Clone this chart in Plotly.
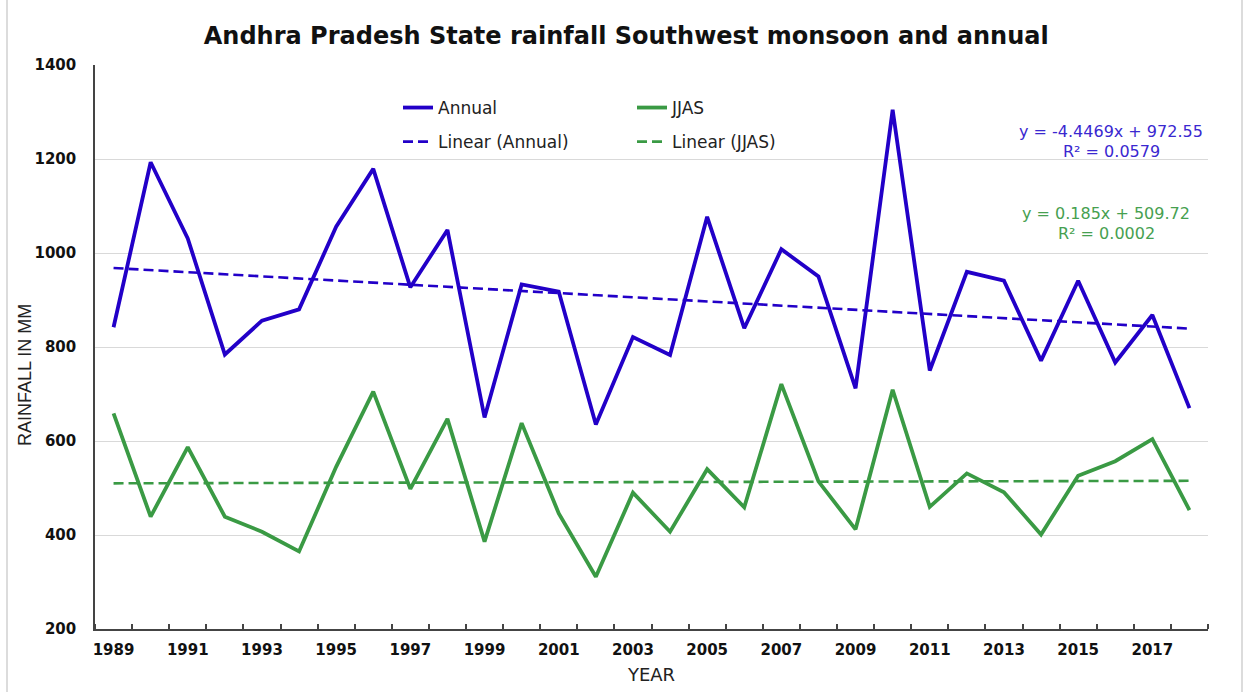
import numpy as np
import plotly.graph_objects as go

# ---- data ----
years = list(range(1989, 2019))
annual = [842, 1193, 1031, 784, 856, 880, 1056, 1179, 927, 1049,
          650, 933, 918, 635, 821, 783, 1077, 840, 1008, 950,
          712, 1305, 750, 960, 941, 771, 941, 767, 868, 670]
jjas = [659, 439, 587, 439, 407, 365, 545, 705, 498, 647,
        386, 638, 446, 311, 490, 407, 540, 459, 721, 514,
        412, 709, 460, 531, 491, 401, 526, 557, 604, 453]
tick_years = list(range(1989, 2019, 2))
tick_labels = [str(y) for y in tick_years]

# trend coefficients (x = 1..30)
annual_slope, annual_icpt = -4.4469, 972.55
jjas_slope, jjas_icpt = 0.185, 509.72
annual_eq = ["y = -4.4469x + 972.55", "R² = 0.0579"]
jjas_eq = ["y = 0.185x + 509.72", "R² = 0.0002"]

idx = np.arange(1, len(years) + 1)
annual_trend = annual_icpt + annual_slope * idx
jjas_trend = jjas_icpt + jjas_slope * idx

BLUE = "#2200C8"
GREEN = "#3A9A44"

W, H = 1245, 692
L, R, T, B = 95, 37, 65, 63
pw, ph = W - L - R, H - T - B


def px2x(px):
    return (px - L) / pw


def px2y(py):
    return (H - B - py) / ph


fig = go.Figure()
fig.add_trace(go.Scatter(x=years, y=annual, mode="lines", name="Annual",
                         line=dict(color=BLUE, width=3.8), legend="legend",
                         legendgroup="a"))
fig.add_trace(go.Scatter(x=years, y=annual_trend, mode="lines", name="Linear (Annual)",
                         line=dict(color=BLUE, width=2.6, dash="10px,5px"),
                         legend="legend", legendgroup="b"))
fig.add_trace(go.Scatter(x=years, y=jjas, mode="lines", name="JJAS",
                         line=dict(color=GREEN, width=3.8), legend="legend2",
                         legendgroup="c"))
fig.add_trace(go.Scatter(x=years, y=jjas_trend, mode="lines", name="Linear (JJAS)",
                         line=dict(color=GREEN, width=2.6, dash="10px,5px"),
                         legend="legend2", legendgroup="d"))

legend_style = dict(font=dict(family="DejaVu Sans", size=17, color="#222"),
                    bgcolor="rgba(0,0,0,0)", orientation="v",
                    tracegroupgap=9, xanchor="left", yanchor="top")
fig.update_layout(
    width=W, height=H,
    margin=dict(l=L, r=R, t=T, b=B, autoexpand=False),
    paper_bgcolor="white", plot_bgcolor="white",
    title=dict(text="<b>Andhra Pradesh State rainfall Southwest monsoon and annual</b>",
               x=0.503, xanchor="center", y=1 - 36 / H, yanchor="middle",
               font=dict(family="DejaVu Sans", size=24, color="#111")),
    legend=dict(x=px2x(398), y=px2y(90), **legend_style),
    legend2=dict(x=px2x(632), y=px2y(90), **legend_style),
    xaxis=dict(range=[1988.5, 2018.5], tickmode="array", tickvals=tick_years,
               ticktext=tick_labels, ticks="", showgrid=False, zeroline=False,
               automargin=False, ticklabelstandoff=6,
               showline=True, linecolor="#444", linewidth=1.5,
               tickfont=dict(family="DejaVu Sans", size=15, color="#111", weight="bold"),
               minor=dict(tickmode="linear", tick0=1988.5, dtick=1, ticks="inside",
                          ticklen=5, tickcolor="#444", tickwidth=1.5, showgrid=False),
               title=dict(text="YEAR", standoff=11,
                          font=dict(family="DejaVu Sans", size=18, color="#222"))),
    yaxis=dict(range=[200, 1400], dtick=200, tick0=200, showgrid=True,
               gridcolor="#D9D9D9", gridwidth=1, zeroline=False,
               automargin=False,
               showline=True, linecolor="#444", linewidth=1.5, ticks="",
               ticklabelstandoff=14,
               tickfont=dict(family="DejaVu Sans", size=15, color="#111", weight="bold")),
)

# y-axis title (placed below centre as in the reference)
fig.add_annotation(text="RAINFALL IN MM", x=px2x(25), y=px2y(375), xref="paper",
                   yref="paper", showarrow=False, textangle=-90,
                   xanchor="center", yanchor="middle",
                   font=dict(family="Liberation Sans", size=18, color="#222"))

for txt, py in zip(annual_eq, [131, 151]):
    fig.add_annotation(text=txt, x=px2x(1111), y=px2y(py), xref="paper", yref="paper",
                       showarrow=False, xanchor="center", yanchor="middle",
                       font=dict(family="DejaVu Sans", size=16, color="#3A28D0"))
for txt, py in zip(jjas_eq, [213, 233]):
    fig.add_annotation(text=txt, x=px2x(1106), y=px2y(py), xref="paper", yref="paper",
                       showarrow=False, xanchor="center", yanchor="middle",
                       font=dict(family="DejaVu Sans", size=16, color="#46A050"))

# light chart border at left/right edges
for bx in (7, 1242):
    fig.add_shape(type="line", xref="paper", yref="paper",
                  x0=px2x(bx), x1=px2x(bx), y0=px2y(0), y1=px2y(H),
                  line=dict(color="#D0D0D0", width=1.5))

fig.write_html("out.html", config={"displayModeBar": False},
               post_script="document.body.style.margin='0';")
